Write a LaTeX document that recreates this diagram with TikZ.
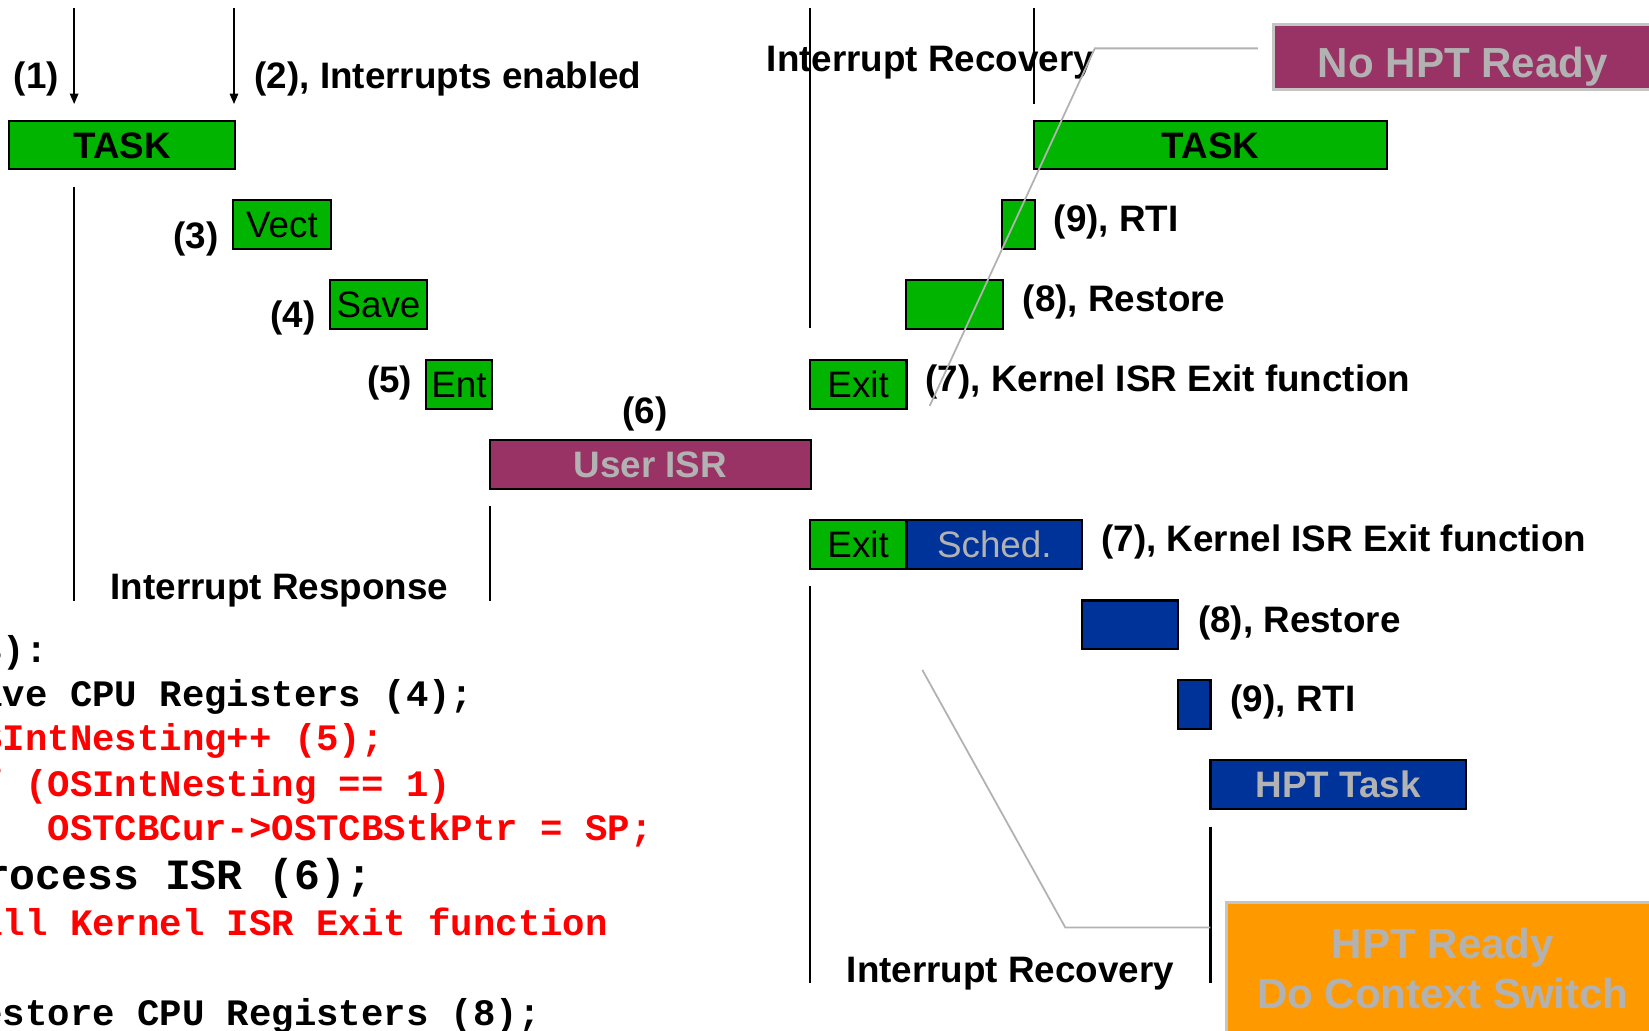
\documentclass[tikz,border=0pt]{standalone}
\usepackage{fontspec}
\setmainfont{Liberation Sans}
\newfontfamily\codefont{Liberation Mono}
\usetikzlibrary{arrows.meta}

\definecolor{boxgreen}{RGB}{0,180,0}
\definecolor{isrpurple}{RGB}{153,51,102}
\definecolor{hptblue}{RGB}{0,51,153}
\definecolor{hptorange}{RGB}{255,153,0}
\definecolor{softgrey}{RGB}{178,178,178}
\definecolor{edgegrey}{RGB}{196,196,196}
\definecolor{codered}{RGB}{255,0,0}

\begin{document}
\begin{tikzpicture}[x=1pt,y=-1pt,
  lbl/.style={font=\fontsize{35pt}{42pt}\selectfont\bfseries, anchor=base west, inner sep=0pt},
  box/.style={draw=black, line width=2pt, inner sep=0pt, text height=25pt, text depth=0pt,
    font=\fontsize{35pt}{42pt}\selectfont},
  gbox/.style={box, fill=boxgreen, text=black},
  bbox/.style={box, fill=hptblue, text=softgrey},
  pbox/.style={box, fill=isrpurple, text=softgrey},
  boldbox/.style={font=\fontsize{35pt}{42pt}\selectfont\bfseries},
  bigtext/.style={font=\fontsize{40pt}{48pt}\selectfont\bfseries, text=softgrey, inner sep=0pt},
  timeline/.style={draw=black, line width=2pt},
  marker/.style={draw=black, line width=1.8pt, -{Triangle[length=10pt,width=8pt]}},
  conn/.style={draw=softgrey, line width=1.7pt},
  code/.style={font=\fontsize{35.5pt}{42pt}\selectfont\codefont\bfseries, anchor=base west, inner sep=0pt},
  bigcode/.style={font=\fontsize{41pt}{48pt}\selectfont\codefont\bfseries, anchor=base west, inner sep=0pt}
]
\useasboundingbox (0,0) rectangle (1568,980);
\clip (0,0) rectangle (1568,980);

% ---------------- interrupt response ----------------
\coordinate (m1top) at (70.5,8);   \coordinate (m1tip) at (70.5,99);
\coordinate (m2top) at (222.5,8);  \coordinate (m2tip) at (222.5,99);
\draw[marker] (m1top) -- (m1tip);
\draw[marker] (m2top) -- (m2tip);
\node[lbl] (l1) at (13,84) {(1)};
\node[lbl] (l2) at (242,84) {(2), Interrupts enabled};

\node[gbox, boldbox, minimum width=214.8pt, minimum height=45.7pt] (task1) at (116,137.9) {TASK};
\node[gbox, minimum width=93.2pt, minimum height=46.8pt] (vect) at (268.1,213.4) {Vect};
\node[lbl] (l3) at (165,236) {(3)};
\node[gbox, minimum width=92.2pt, minimum height=46.8pt] (save) at (359.9,289.4) {Save};
\node[lbl] (l4) at (257,311) {(4)};
\node[gbox, minimum width=63pt, minimum height=46.8pt] (ent) at (436.5,365.9) {Ent};
\node[lbl] (l5) at (349,373) {(5)};
\node[lbl] (l6) at (591.6,403) {(6)};
\node[pbox, boldbox, minimum width=305pt, minimum height=46.5pt] (userisr) at (618.5,441.8) {User ISR};

\coordinate (r1a) at (70.5,178); \coordinate (r1b) at (70.5,571);
\coordinate (r2a) at (466,481);  \coordinate (r2b) at (466,571);
\draw[timeline] (r1a) -- (r1b);
\draw[timeline] (r2a) -- (r2b);
\node[lbl] (resp) at (105,570) {Interrupt Response};

% ---------------- recovery without task switch ----------------
\coordinate (t1a) at (770,8);  \coordinate (t1b) at (770,312);
\coordinate (t2a) at (983,8);  \coordinate (t2b) at (983,99);
\draw[timeline] (t1a) -- (t1b);
\draw[timeline] (t2a) -- (t2b);
\node[lbl] (rec1) at (729,68) {Interrupt Recovery};

\node[gbox, boldbox, minimum width=336pt, minimum height=46pt] (task2) at (1151,138) {TASK};
\node[gbox, minimum width=31pt, minimum height=47pt] (rti1) at (968.5,213.5) {};
\node[lbl] (l9a) at (1002,220) {(9), RTI};
\node[gbox, minimum width=92.5pt, minimum height=47pt] (rest1) at (907.7,289.5) {};
\node[lbl] (l8a) at (972.5,296) {(8), Restore};
\node[gbox, minimum width=92pt, minimum height=47pt] (exit1) at (816,365.5) {Exit};
\node[lbl] (l7a) at (880,372) {(7), Kernel ISR Exit function};

\node[draw=edgegrey, line width=2.5pt, fill=isrpurple, inner sep=0pt,
      minimum width=360pt, minimum height=62pt, text height=40pt, text depth=0pt,
      font=\fontsize{40pt}{48pt}\selectfont\bfseries, text=softgrey] (nohpt) at (1391,54) {No HPT Ready};

% ---------------- recovery with task switch ----------------
\node[gbox, minimum width=92pt, minimum height=46.5pt] (exit2) at (816,518) {Exit};
\node[bbox, minimum width=167pt, minimum height=46.5pt] (sched) at (945.5,518) {Sched.};
\node[lbl] (l7b) at (1047,524) {(7), Kernel ISR Exit function};
\node[bbox, minimum width=91pt, minimum height=46pt] (rest2) at (1074.5,594) {};
\node[lbl] (l8b) at (1139,601) {(8), Restore};
\node[bbox, minimum width=31pt, minimum height=46pt] (rti2) at (1135.5,670) {};
\node[lbl] (l9b) at (1170,677) {(9), RTI};
\node[bbox, boldbox, minimum width=243pt, minimum height=46pt] (hpttask) at (1272.5,746) {HPT Task};

\coordinate (t3a) at (770,557);  \coordinate (t3b) at (770,935);
\coordinate (t4a) at (1151,786); \coordinate (t4b) at (1151,935);
\draw[timeline] (t3a) -- (t3b);
\draw[timeline] (t4a) -- (t4b);
\node[lbl] (rec2) at (805,934) {Interrupt Recovery};

\node[draw=edgegrey, line width=2.5pt, fill=hptorange, inner sep=0pt,
      minimum width=412pt, minimum height=142pt] (hptrdy) at (1372,929) {};
\node[bigtext, anchor=base] (hptrdy1) at (1372,911) {HPT Ready};
\node[bigtext, anchor=base] (hptrdy2) at (1372,959) {Do Context Switch};

% ---------------- callout leaders ----------------
\coordinate (c1s) at (1196,46); \coordinate (c1b) at (1041,46); \coordinate (c1e) at (884,386);
\draw[conn] (c1s) -- (c1b) -- (c1e);
\coordinate (c2s) at (877,637); \coordinate (c2b) at (1013,882); \coordinate (c2e) at (1151,882);
\draw[conn] (c2s) -- (c2b) -- (c2e);

% ---------------- ISR pseudo code ----------------
\node[code] (k1) at (-40,630) {(3):};
\node[code] (k2) at (-40,672) {Save CPU Registers (4);};
\node[code, text=codered] (k3) at (-40,714) {OSIntNesting++ (5);};
\node[code, text=codered] (k4) at (-40,757) {if (OSIntNesting == 1)};
\node[code, text=codered] (k5) at (45.2,799) {OSTCBCur->OSTCBStkPtr = SP;};
\node[bigcode] (k6) at (-40,846) {Process ISR (6);};
\node[code, text=codered] (k7) at (-40,890) {Call Kernel ISR Exit function};
\node[code] (k8) at (-40,975) {Restore CPU Registers (8);};
\end{tikzpicture}
\end{document}
